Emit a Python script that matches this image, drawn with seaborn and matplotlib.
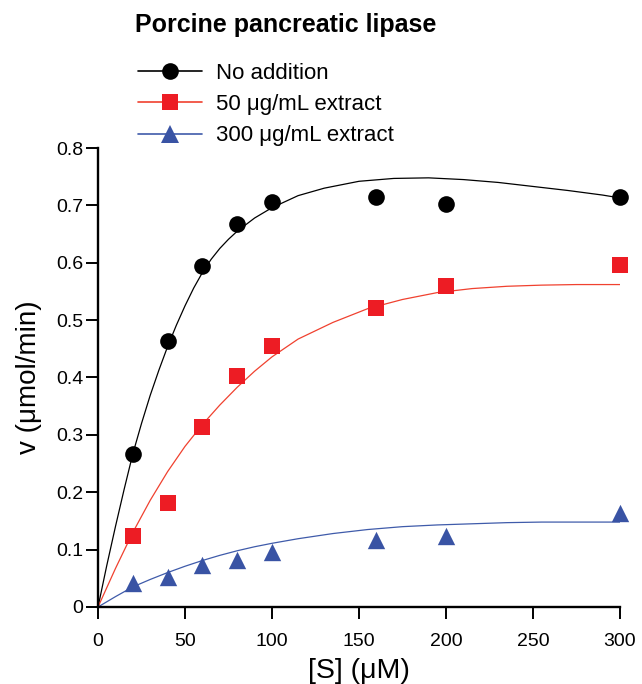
import numpy as np
import pandas as pd
import seaborn as sns
import matplotlib.pyplot as plt
from matplotlib.lines import Line2D

# Measured rates, v (umol/min) at each substrate concentration [S] (uM)
substrate = [20, 40, 60, 80, 100, 160, 200, 300]
v_none = [0.267, 0.463, 0.595, 0.668, 0.706, 0.715, 0.703, 0.714]
v_50 = [0.124, 0.182, 0.314, 0.402, 0.455, 0.522, 0.560, 0.596]
v_300 = [0.042, 0.053, 0.074, 0.082, 0.095, 0.117, 0.123, 0.163]

# Fitted curves
fit_x_none = [0, 5, 10, 15, 20, 25, 30, 35, 40, 45, 50, 55, 60, 65, 70, 75,
              80, 90, 100, 115, 130, 150, 170, 190, 210, 230, 250, 270, 290,
              300]
fit_none = [0, 0.072, 0.140, 0.205, 0.267, 0.320, 0.369, 0.413, 0.454, 0.491,
            0.525, 0.556, 0.583, 0.606, 0.625, 0.641, 0.655, 0.678, 0.696,
            0.717, 0.730, 0.742, 0.747, 0.748, 0.745, 0.740, 0.733, 0.726,
            0.718, 0.713]

fit_x_50 = [0, 10, 20, 30, 40, 50, 60, 70, 80, 90, 100, 115, 135, 155, 175,
            195, 215, 235, 255, 275, 300]
fit_50 = [0, 0.067, 0.130, 0.186, 0.236, 0.280, 0.318, 0.352, 0.383, 0.411,
          0.436, 0.467, 0.496, 0.520, 0.536, 0.548, 0.555, 0.559, 0.561,
          0.562, 0.562]

fit_x_300 = [0, 10, 20, 30, 40, 50, 60, 70, 80, 90, 100, 115, 135, 155, 175,
             195, 215, 235, 255, 275, 300]
fit_300 = [0, 0.018, 0.035, 0.048, 0.060, 0.071, 0.081, 0.090, 0.098, 0.105,
           0.111, 0.119, 0.128, 0.135, 0.140, 0.143, 0.145, 0.147, 0.148,
           0.148, 0.148]

labels = ["No addition", "50 \u03bcg/mL extract", "300 \u03bcg/mL extract"]
point_colors = ["#000000", "#ED1C24", "#3953A4"]
line_colors = ["#000000", "#F0412F", "#3F5BAA"]
markers = ["o", "s", "^"]
marker_sizes = [12, 11, 12.5]

sns.set_style("ticks")
plt.rcParams["font.family"] = ["Liberation Sans", "DejaVu Sans"]
plt.rcParams.update({
    "text.color": "black",
    "axes.labelcolor": "black",
    "axes.edgecolor": "black",
    "xtick.color": "black",
    "ytick.color": "black",
})

points = pd.DataFrame({
    "S": substrate * 3,
    "v": v_none + v_50 + v_300,
    "group": np.repeat(labels, len(substrate)),
})
curves = pd.DataFrame({
    "S": fit_x_none + fit_x_50 + fit_x_300,
    "v": fit_none + fit_50 + fit_300,
    "group": [labels[0]] * len(fit_x_none) + [labels[1]] * len(fit_x_50)
             + [labels[2]] * len(fit_x_300),
})

fig = plt.figure(figsize=(6.42, 6.84), dpi=100)
ax = fig.add_axes([0.1527, 0.1126, 0.8130, 0.6710])

for lab, lc in zip(labels, line_colors):
    sns.lineplot(data=curves[curves["group"] == lab], x="S", y="v",
                 color=lc, linewidth=0.9, ax=ax, legend=False)

for lab, pc, m, ms in zip(labels, point_colors, markers, marker_sizes):
    sns.scatterplot(data=points[points["group"] == lab], x="S", y="v",
                    color=pc, marker=m, s=ms ** 2, linewidth=0,
                    ax=ax, legend=False, clip_on=False, zorder=3)

ax.set_xlim(0, 300)
ax.set_ylim(0, 0.8)
ax.set_xticks([0, 50, 100, 150, 200, 250, 300])
ax.set_yticks([0, 0.1, 0.2, 0.3, 0.4, 0.5, 0.6, 0.7, 0.8])
ax.set_yticklabels(["0", "0.1", "0.2", "0.3", "0.4", "0.5", "0.6", "0.7", "0.8"])
ax.tick_params(labelsize=14, length=8.5, width=1.4, direction="out")
ax.tick_params(axis="x", pad=10)
ax.tick_params(axis="y", pad=2)
for side in ["left", "bottom"]:
    ax.spines[side].set_linewidth(1.7)
sns.despine(ax=ax)

ax.set_xlabel("[S] (\u03bcM)", fontsize=20.5, labelpad=6)
ax.set_ylabel("v (\u03bcmol/min)", fontsize=20, labelpad=10)

fig.text(135 / 642, 1 - 25 / 684, "Porcine pancreatic lipase",
         fontsize=18, fontweight="bold", va="center", ha="left")

handles = [Line2D([0], [0], color=lc, marker=m, markersize=ms,
                  markerfacecolor=pc, markeredgewidth=0, linewidth=1.2)
           for lc, pc, m, ms in zip(line_colors, point_colors, markers, marker_sizes)]
fig.legend(handles, labels, loc="upper left",
           bbox_to_anchor=(138 / 642, 1 - 63 / 684), frameon=False,
           fontsize=16, handlelength=2.9, handletextpad=0.6,
           labelspacing=0.46, borderaxespad=0, borderpad=0)

fig.savefig("out.png", dpi=100)
